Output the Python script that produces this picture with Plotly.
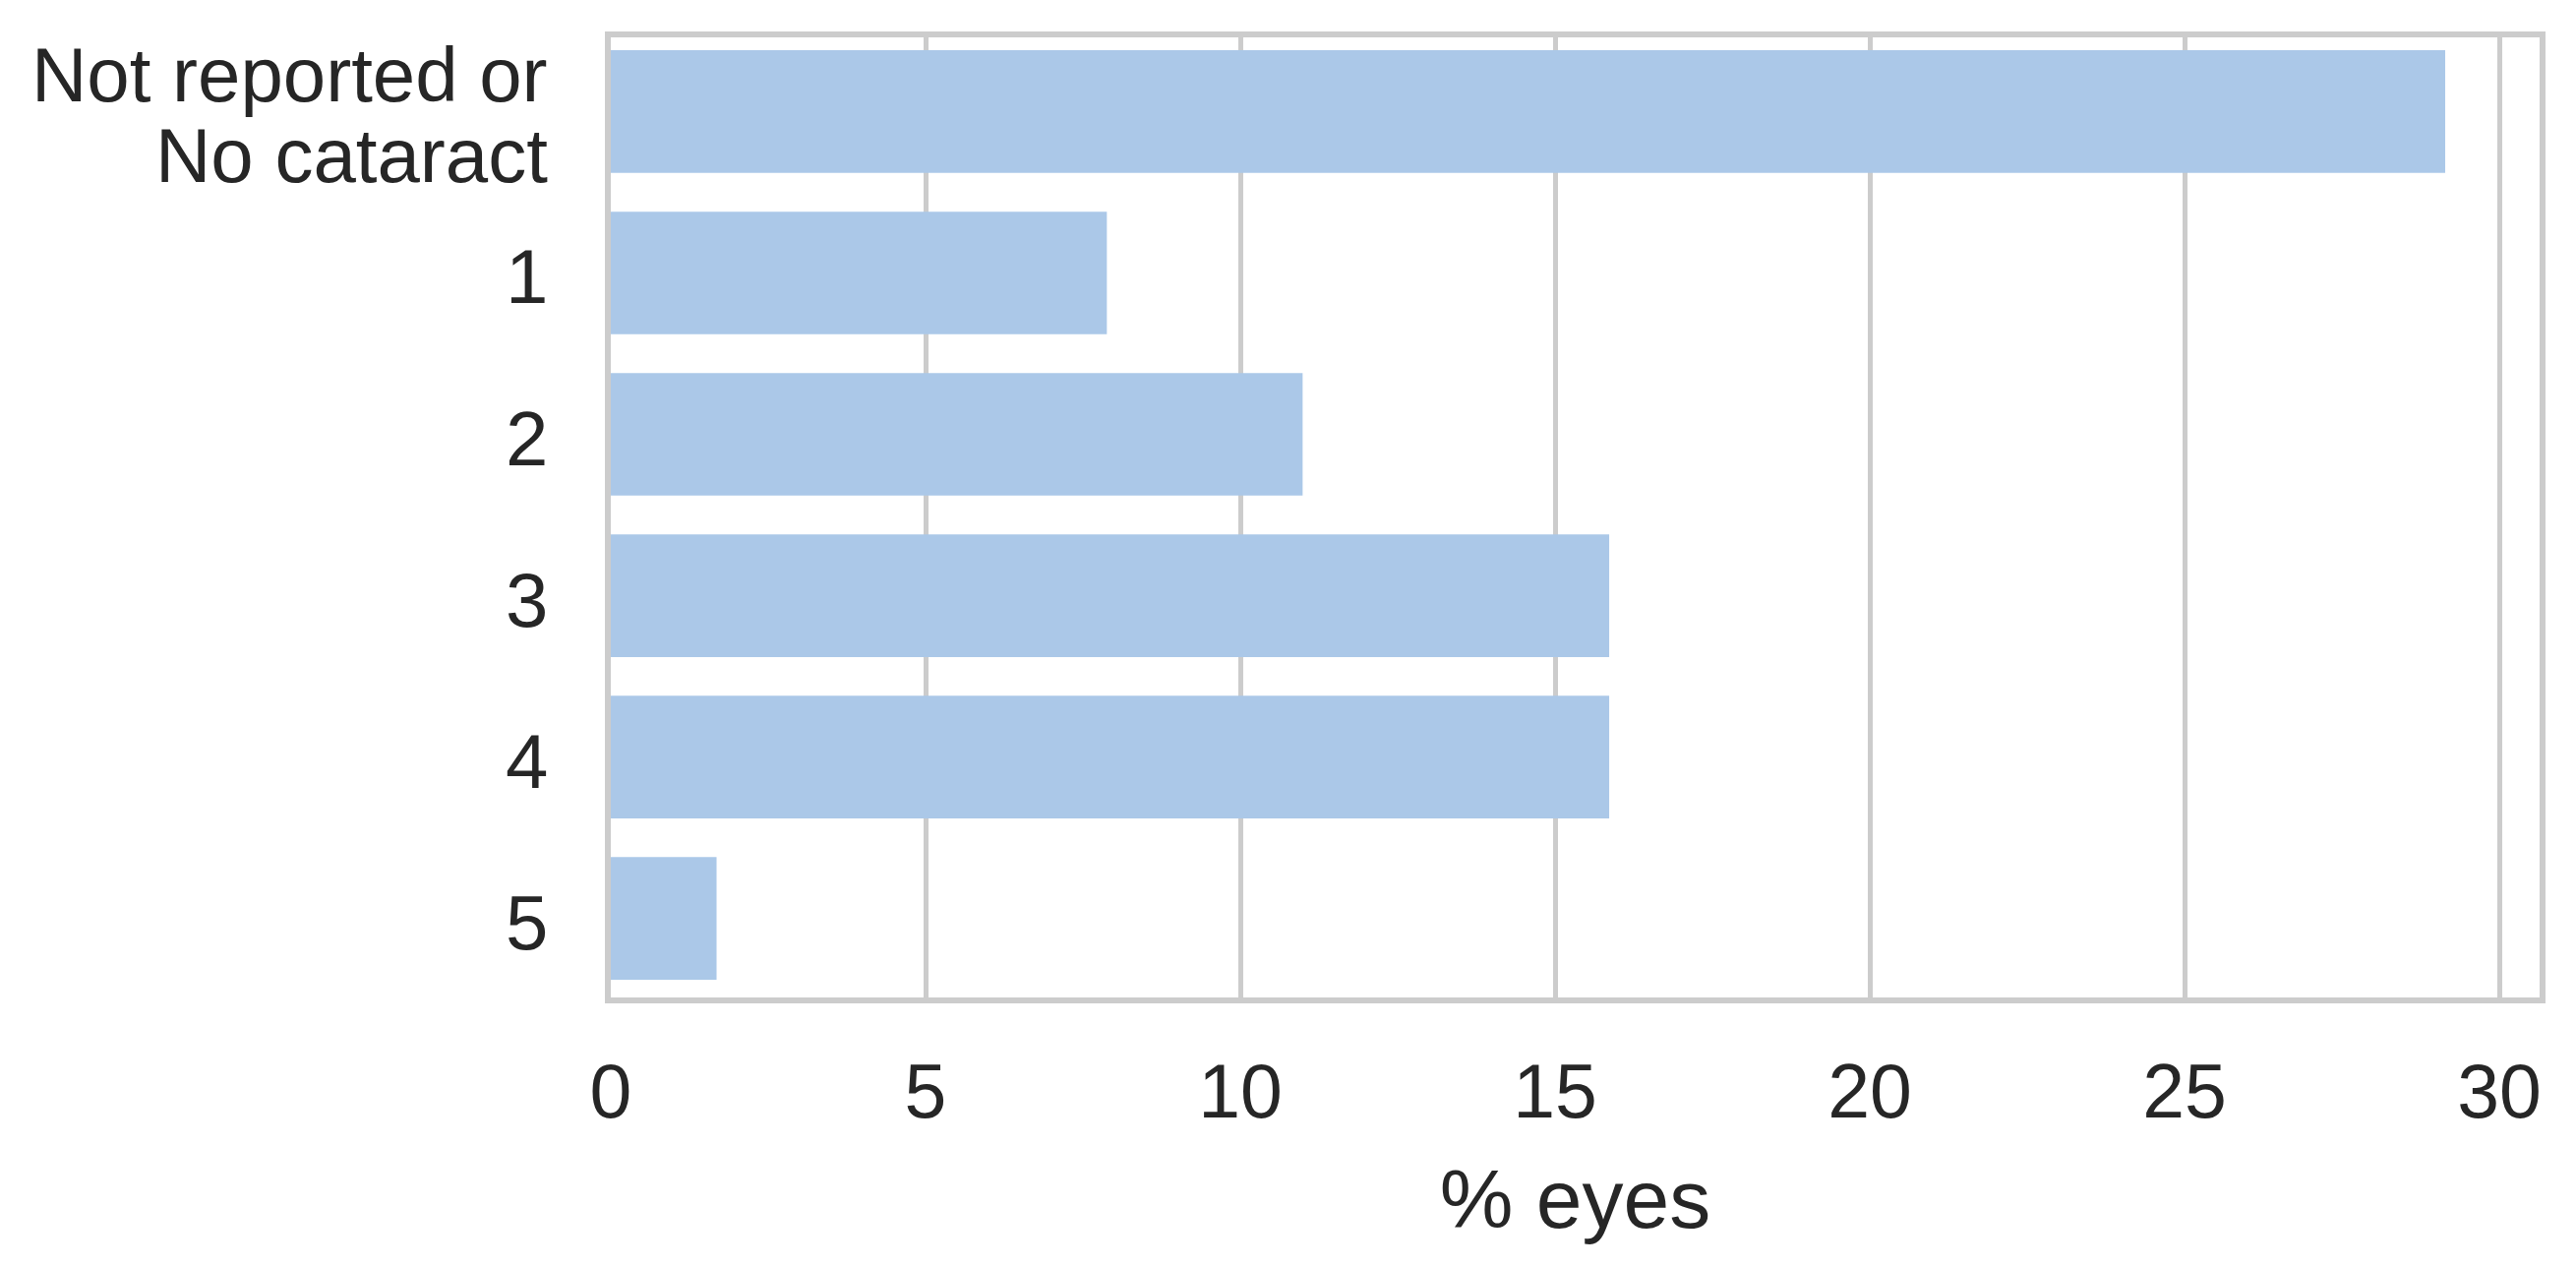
import plotly.graph_objects as go

categories = ["Not reported or<br>No cataract", "1", "2", "3", "4", "5"]
values = [29.14, 7.88, 10.99, 15.86, 15.86, 1.68]
x_ticks = [0, 5, 10, 15, 20, 25, 30]
x_title = "% eyes"

BAR_COLOR = "#abc8e8"
GRID = "#cccccc"
TEXT = "#262626"
FONT = "Liberation Sans, Arial, sans-serif"

fig = go.Figure()
fig.add_trace(go.Bar(
    x=values, y=categories, orientation="h",
    marker=dict(color=BAR_COLOR, line=dict(width=0)),
    width=0.76, hoverinfo="skip",
))

annotations = []
for cat in categories:
    lines = cat.split("<br>")
    n = len(lines)
    for k, line in enumerate(lines):
        annotations.append(dict(
            x=0, xref="paper", xanchor="right", xshift=-63,
            y=cat, yref="y", yanchor="middle",
            yshift=-(k - (n - 1) / 2) * 82 - 4,
            text=line, showarrow=False, borderpad=0,
            font=dict(family=FONT, size=78, color=TEXT),
        ))

# page body has an 8px default margin, so figure is 8px smaller and margins compensate
fig.update_layout(
    width=2611, height=1280,
    margin=dict(l=613, r=37, t=30, b=274, pad=0, autoexpand=False),
    paper_bgcolor="white", plot_bgcolor="white",
    showlegend=False,
    font=dict(family=FONT, color=TEXT),
    annotations=annotations,
)
fig.update_xaxes(
    range=[0, 30.64], automargin=False,
    tickvals=x_ticks, ticktext=[str(t) for t in x_ticks],
    showgrid=True, gridcolor=GRID, gridwidth=5,
    zeroline=False,
    showline=True, mirror=True, linecolor=GRID, linewidth=6,
    ticks="", tickfont=dict(family=FONT, size=77, color=TEXT),
    ticklabelstandoff=24,
    title=dict(text=x_title, font=dict(family=FONT, size=84, color=TEXT), standoff=40),
)
fig.update_yaxes(
    type="category", categoryorder="array", categoryarray=categories,
    range=[5.49, -0.46], automargin=False,
    showgrid=False, zeroline=False,
    showline=True, mirror=True, linecolor=GRID, linewidth=6,
    ticks="", showticklabels=False,
)

fig.write_html("out.html")
